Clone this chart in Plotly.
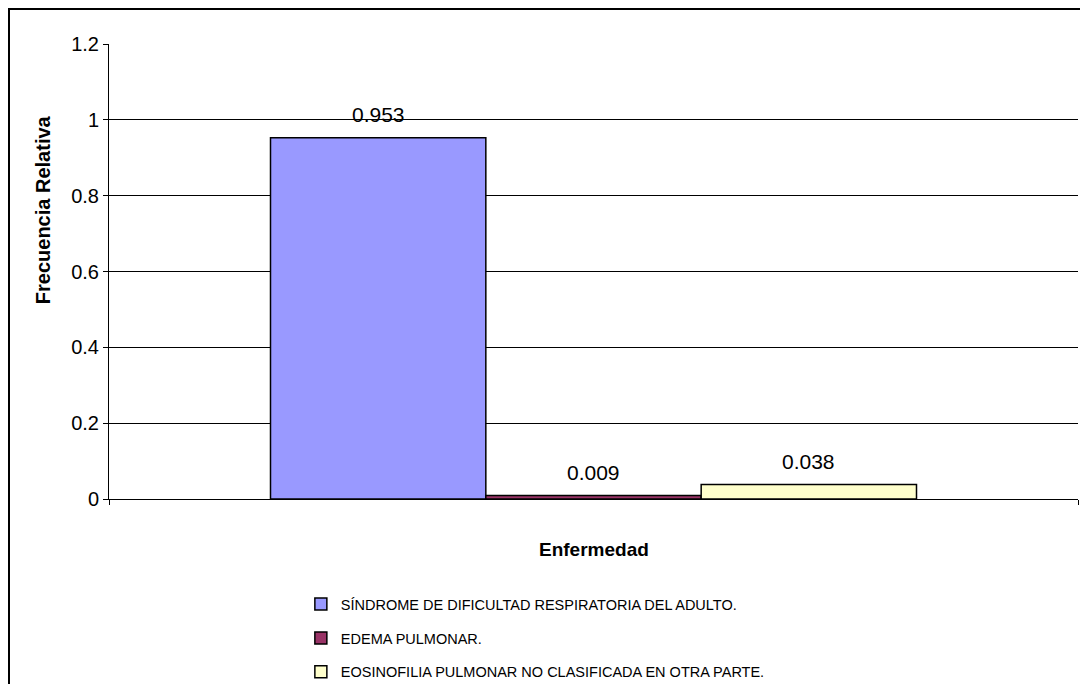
import plotly.graph_objects as go

categories = [
    "SÍNDROME DE DIFICULTAD RESPIRATORIA DEL ADULTO.",
    "EDEMA PULMONAR.",
    "EOSINOFILIA PULMONAR NO CLASIFICADA EN OTRA PARTE.",
]
values = [0.953, 0.009, 0.038]
labels = ["0.953", "0.009", "0.038"]
colors = ["#9999FF", "#993366", "#FFFFCC"]

FONT = "Liberation Sans, Arial, sans-serif"

fig = go.Figure()
for i, (name, v, c) in enumerate(zip(categories, values, colors)):
    fig.add_trace(go.Bar(
        x=[i], y=[v], width=1, name=name, legendgroup=str(i),
        marker=dict(color=c, line=dict(color="#000000", width=1.5)),
    ))
    fig.add_annotation(x=i, y=v, xref="x", yref="y", text=labels[i],
                       showarrow=False, yanchor="bottom", yshift=10,
                       font=dict(family=FONT, size=21, color="#000"))

n = len(values)
half = 2.25
xmin, xmax = (n - 1) / 2 - half, (n - 1) / 2 + half

fig.update_layout(
    width=1072, height=676,
    margin=dict(l=101, r=2, t=36, b=185, autoexpand=False),
    paper_bgcolor="white", plot_bgcolor="white",
    font=dict(family=FONT, color="#000"),
    showlegend=True,
    legend=dict(x=0.198, y=-0.196, xanchor="left", yanchor="top",
                font=dict(family=FONT, size=14.5, color="#000"),
                traceorder="grouped", tracegroupgap=12,
                bgcolor="rgba(0,0,0,0)"),
    xaxis=dict(range=[xmin, xmax], showgrid=False, zeroline=False,
               showline=True, linecolor="#000", linewidth=1,
               tickvals=[xmin, xmax], ticks="outside", ticklen=5,
               tickcolor="#000", showticklabels=False),
    yaxis=dict(range=[0, 1.2], dtick=0.2, showgrid=True, gridcolor="#000",
               gridwidth=1, zeroline=False, showline=True, linecolor="#000",
               linewidth=1, ticks="outside", ticklen=5, tickcolor="#000",
               tickfont=dict(family=FONT, size=20, color="#000")),
    annotations=list(fig.layout.annotations) + [
        dict(text="<b>Frecuencia Relativa</b>", xref="paper", yref="paper",
             x=-0.068, y=0.635, xanchor="center", yanchor="middle",
             textangle=-90, showarrow=False,
             font=dict(family=FONT, size=20, color="#000")),
        dict(text="<b>Enfermedad</b>", xref="paper", yref="paper",
             x=0.5, y=-0.11, xanchor="center", yanchor="middle",
             showarrow=False,
             font=dict(family=FONT, size=19, color="#000")),
    ],
    shapes=[dict(type="rect", xref="paper", yref="paper",
                 x0=-0.1032, x1=1.2, y0=-0.6, y1=1.0769,
                 line=dict(color="#000", width=2), layer="above")],
)

fig.write_html("out.html")
